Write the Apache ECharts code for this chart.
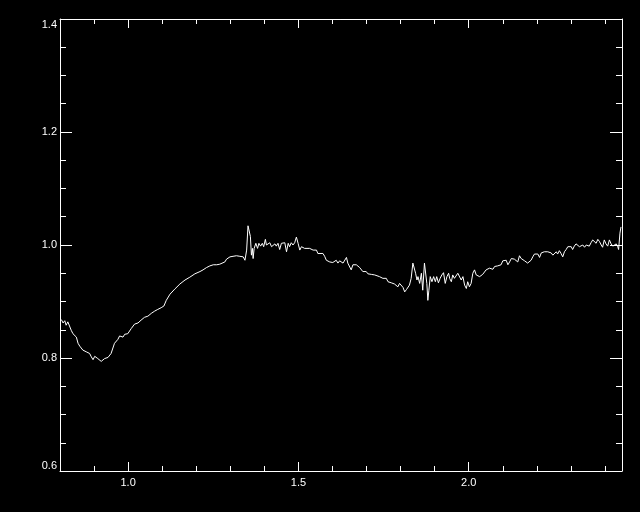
<!DOCTYPE html>
<html><head><meta charset="utf-8">
<script src="https://cdn.jsdelivr.net/npm/echarts@6/dist/echarts.min.js"></script>
<style>html,body{margin:0;padding:0;background:#000}#c{width:640px;height:512px}</style>
</head><body><div id="c"></div>
<script>
const wave=[0.804,0.809,0.814,0.818,0.823,0.828,0.833,0.838,0.843,0.848,0.853,0.858,0.862,0.867,0.872,0.877,0.882,0.887,0.892,0.897,0.902,0.906,0.911,0.916,0.921,0.926,0.931,0.936,0.941,0.946,0.950,0.955,0.960,0.965,0.970,0.975,0.980,0.985,0.990,0.999,1.004,1.009,1.019,1.029,1.038,1.048,1.058,1.068,1.078,1.087,1.097,1.105,1.112,1.123,1.137,1.152,1.167,1.181,1.196,
1.211,1.220,1.225,1.230,1.240,1.250,1.260,1.269,1.274,1.284,1.289,1.294,1.299,1.304,1.308,1.313,1.318,1.328,1.338,1.343,1.348,1.352,1.355,1.359,1.362,1.365,1.367,1.370,1.375,1.380,1.384,1.389,1.394,1.398,1.403,1.406,1.411,1.416,1.421,1.426,1.431,1.435,1.440,1.445,1.450,1.455,1.460,1.465,1.470,1.474,1.479,1.484,1.489,1.494,1.499,1.504,1.509,1.514,1.518,1.523,1.533,1.543,1.548,1.553,1.557,1.562,1.572,1.577,1.582,1.587,1.592,
1.597,1.601,1.606,1.611,1.616,1.621,1.626,1.631,1.636,1.641,1.645,1.650,1.655,1.660,1.670,1.675,1.680,1.685,1.689,1.694,1.699,1.704,1.709,1.714,1.719,1.724,1.729,1.738,1.743,1.748,1.753,1.758,1.763,1.768,1.773,1.777,1.782,1.787,1.792,1.797,1.802,1.807,1.812,1.817,1.821,1.826,1.831,1.836,1.841,1.844,1.848,1.851,1.856,1.861,1.865,1.870,1.873,1.877,1.880,1.883,1.887,1.892,1.897,1.902,1.906,1.911,1.916,1.921,1.926,1.931,1.936,1.941,
1.944,1.949,1.953,1.958,1.963,1.968,1.973,1.978,1.983,1.988,1.993,1.997,2.002,2.007,2.012,2.017,2.022,2.027,2.032,2.037,2.041,2.046,2.051,2.056,2.061,2.066,2.071,2.076,2.081,2.085,2.090,2.095,2.100,2.105,2.110,2.115,2.120,2.125,2.129,2.134,2.139,2.144,2.149,2.154,2.159,2.164,2.169,2.173,2.178,2.183,2.188,2.193,2.198,2.203,2.208,
2.213,2.217,2.222,2.227,2.232,2.237,2.242,2.247,2.252,2.257,2.261,2.266,2.271,2.276,2.281,2.286,2.291,2.296,2.301,2.305,2.310,2.315,2.320,2.325,2.330,2.335,2.340,2.345,2.349,2.354,2.359,2.364,2.369,2.374,2.379,2.384,2.389,2.393,2.398,2.403,2.408,2.413,2.418,2.423,2.428,2.433,2.437,2.440,2.444,2.447];
const flux=[0.868,0.862,0.866,0.858,0.864,0.861,0.849,0.843,0.846,0.837,0.826,0.821,0.820,0.814,0.813,0.811,0.811,0.808,0.802,0.797,0.803,0.805,0.799,0.796,0.794,0.793,0.799,0.796,0.801,0.803,0.808,0.811,0.826,0.828,0.833,0.839,0.840,0.837,0.842,0.843,0.846,0.852,0.860,0.862,0.867,0.872,0.874,0.879,0.883,0.886,0.889,0.892,0.902,0.913,0.922,0.931,0.938,0.943,0.949,
0.953,0.956,0.959,0.960,0.963,0.965,0.965,0.966,0.968,0.970,0.975,0.976,0.979,0.978,0.980,0.982,0.981,0.980,0.979,0.973,0.991,1.034,1.032,1.015,0.982,0.994,0.976,0.994,1.003,0.994,1.003,0.998,1.003,0.997,1.010,1.000,0.997,1.004,0.997,0.994,1.002,0.998,1.003,0.992,1.003,1.000,1.004,0.988,1.003,0.997,1.004,1.000,1.004,1.014,1.003,0.991,0.997,0.994,0.994,0.996,0.994,0.991,0.988,0.991,0.985,0.987,0.985,0.980,0.973,0.976,0.970,
0.973,0.969,0.970,0.973,0.968,0.972,0.975,0.968,0.970,0.978,0.968,0.965,0.956,0.965,0.965,0.962,0.960,0.957,0.953,0.956,0.953,0.949,0.951,0.948,0.950,0.947,0.945,0.944,0.944,0.941,0.938,0.941,0.935,0.938,0.933,0.935,0.931,0.929,0.926,0.932,0.935,0.925,0.917,0.921,0.923,0.929,0.941,0.968,0.970,0.950,0.938,0.944,0.932,0.950,0.920,0.968,0.969,0.932,0.902,0.920,0.944,0.935,0.944,0.935,0.944,0.933,0.941,0.947,0.951,0.932,0.944,0.950,
0.941,0.935,0.947,0.941,0.941,0.950,0.947,0.938,0.944,0.929,0.923,0.935,0.926,0.932,0.950,0.956,0.947,0.950,0.944,0.941,0.948,0.950,0.956,0.954,0.959,0.960,0.957,0.962,0.959,0.963,0.960,0.965,0.972,0.969,0.973,0.965,0.970,0.976,0.973,0.975,0.972,0.970,0.981,0.976,0.976,0.972,0.969,0.968,0.970,0.973,0.979,0.984,0.984,0.984,0.978,
0.986,0.985,0.988,0.990,0.988,0.985,0.986,0.982,0.985,0.988,0.984,0.990,0.985,0.979,0.988,0.992,0.997,1.000,0.997,0.992,0.998,1.002,1.003,0.997,0.996,1.000,0.996,1.000,1.003,0.998,1.004,1.009,1.008,1.003,1.010,1.006,1.000,0.996,1.009,1.002,0.998,1.009,1.002,0.998,1.000,1.002,0.998,0.992,1.021,1.032];

const xLabelTicks=[1.0,1.5,2.0];
const xMinorTicks=[0.9,1.1,1.2,1.3,1.4,1.6,1.7,1.8,1.9,2.1,2.2,2.3,2.4];
const yLabelTicks=[0.6,0.8,1.0,1.2,1.4];
const yMinorTicks=[0.65,0.7,0.75,0.85,0.9,0.95,1.05,1.1,1.15,1.25,1.3,1.35];
const X_MIN=0.8, X_MAX=2.45, Y_MIN=0.6, Y_MAX=1.4;

const seriesData = wave.map((w,i)=>[w, flux[i]]);
const FG='#ffffff';
const font={color:FG,fontFamily:'Liberation Sans, Arial, sans-serif',fontSize:11};

function xAx(pos, ticks, len, showLine, labels){
  return {type:'value',position:pos,min:X_MIN,max:X_MAX,
    axisLine:{show:showLine,onZero:false,lineStyle:{color:FG,width:1}},
    axisTick:{show:true,inside:true,length:len,customValues:ticks,lineStyle:{color:FG,width:1}},
    axisLabel:labels?Object.assign({show:true,margin:6,customValues:labels,formatter:v=>v.toFixed(1)},font):{show:false},
    splitLine:{show:false}};
}
function yAx(pos, ticks, len, showLine, labels){
  return {type:'value',position:pos,min:Y_MIN,max:Y_MAX,
    axisLine:{show:showLine,onZero:false,lineStyle:{color:FG,width:1}},
    axisTick:{show:true,inside:true,length:len,customValues:ticks,lineStyle:{color:FG,width:1}},
    axisLabel:labels?Object.assign({show:true,margin:3,customValues:labels,formatter:v=>v.toFixed(1),
      verticalAlignMaxLabel:'top',verticalAlignMinLabel:'bottom'},font):{show:false},
    splitLine:{show:false}};
}

const chart=echarts.init(document.getElementById('c'),null,{renderer:'canvas'});
chart.setOption({
  backgroundColor:'#000',
  animation:false,
  grid:{left:60,right:18,top:19,bottom:41,containLabel:false},
  xAxis:[
    xAx('bottom',xMinorTicks,5,true,xLabelTicks),
    xAx('bottom',xLabelTicks,9,false,null),
    xAx('top',xMinorTicks,5,true,null),
    xAx('top',xLabelTicks,9,false,null)
  ],
  yAxis:[
    yAx('left',yMinorTicks,6,true,yLabelTicks),
    yAx('left',yLabelTicks,12,false,null),
    yAx('right',yMinorTicks,6,true,null),
    yAx('right',yLabelTicks,12,false,null)
  ],
  series:[{type:'line',xAxisIndex:0,yAxisIndex:0,data:seriesData,showSymbol:false,symbol:'none',
    clip:true,lineStyle:{color:FG,width:1},itemStyle:{color:FG}}]
});
</script></body></html>
